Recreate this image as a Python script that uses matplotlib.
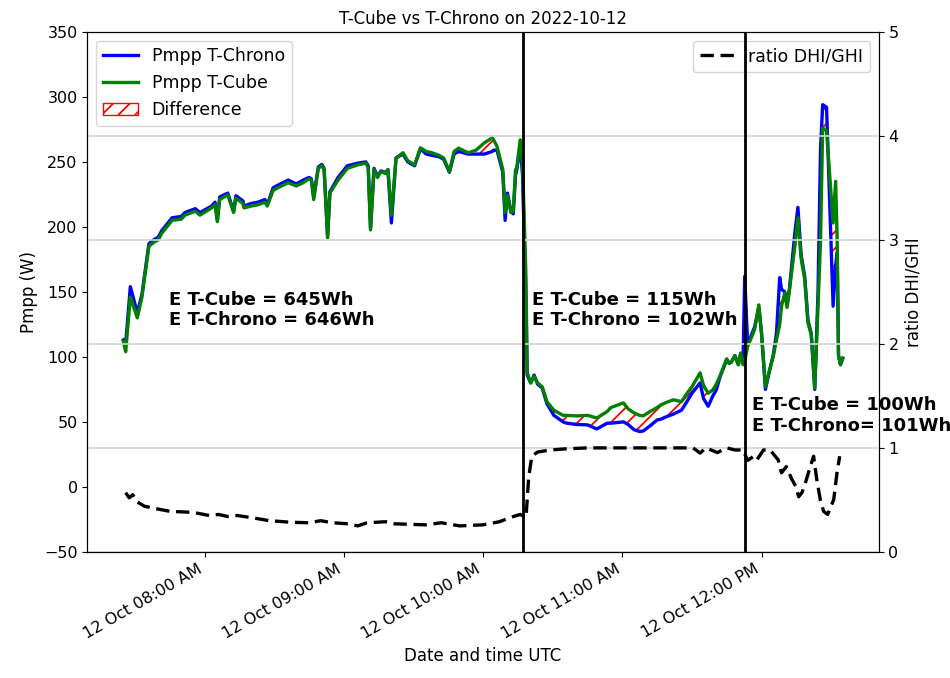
import numpy as np
import pandas as pd
import matplotlib
matplotlib.use('Agg')
import matplotlib.pyplot as plt
import matplotlib.dates as mdates

day = '2022-10-12 '

# power samples: time, T-Cube (W), T-Chrono (W)
p_times = ['07:25:00', '07:26:00', '07:28:00', '07:31:00', '07:33:00', '07:36:00', '07:38:00',
           '07:40:00', '07:41:30', '07:46:00', '07:50:00', '07:51:30', '07:56:00', '07:58:00',
           '08:03:00', '08:04:30', '08:05:30', '08:06:30', '08:10:00', '08:12:30', '08:13:30',
           '08:16:30', '08:17:00', '08:20:00', '08:23:00', '08:26:00', '08:27:00', '08:29:30',
           '08:31:30', '08:36:00', '08:39:30', '08:42:30', '08:45:00', '08:46:00', '08:47:00',
           '08:49:00', '08:50:30', '08:51:30', '08:53:00', '08:54:00', '08:57:30', '09:01:30',
           '09:06:00', '09:09:30', '09:10:30', '09:11:30', '09:13:00', '09:14:30', '09:16:00',
           '09:18:00', '09:19:00', '09:20:30', '09:22:30', '09:25:30', '09:27:30', '09:30:30',
           '09:33:00', '09:35:30', '09:38:00', '09:41:00', '09:43:00', '09:45:30', '09:47:30',
           '09:49:30', '09:53:30', '09:57:00', '10:00:30', '10:04:00', '10:04:30', '10:06:00',
           '10:08:30', '10:09:30', '10:10:30', '10:12:00', '10:13:00', '10:14:00', '10:14:30',
           '10:16:00', '10:17:00', '10:18:30', '10:19:00', '10:20:30', '10:22:00', '10:23:30',
           '10:25:30', '10:27:30', '10:30:30', '10:34:30', '10:36:00', '10:40:30', '10:45:00',
           '10:49:00', '10:53:30', '10:55:00', '11:00:30', '11:02:30', '11:05:00', '11:07:30',
           '11:09:00', '11:12:00', '11:15:00', '11:16:30', '11:19:00', '11:22:00', '11:25:30',
           '11:27:30', '11:30:00', '11:33:30', '11:35:00', '11:37:00', '11:39:00', '11:40:30',
           '11:42:00', '11:45:00', '11:46:00', '11:47:00', '11:48:30', '11:50:00', '11:51:00',
           '11:52:00', '11:52:45', '11:54:00', '11:55:40', '11:57:00', '11:58:50', '12:00:00',
           '12:01:40', '12:03:30', '12:05:00', '12:06:25', '12:07:50', '12:08:35', '12:10:00',
           '12:11:00', '12:12:00', '12:14:20', '12:15:40', '12:17:05', '12:18:35', '12:20:00',
           '12:21:25', '12:22:55', '12:24:20', '12:25:25', '12:26:20', '12:28:00', '12:29:25',
           '12:30:50', '12:31:55', '12:32:35', '12:33:10', '12:34:00', '12:35:00']
p_cube = [112, 104, 146, 130, 146, 185, 188,
          190, 195, 205, 206, 209, 212, 209,
          214.6, 217, 204, 221, 224.6, 211, 222,
          218, 214.6, 216, 217, 219, 216, 228,
          230, 234, 231.5, 234, 237, 236, 221,
          245, 247, 244, 191.5, 226, 236, 245,
          247.7, 249, 246, 197.7, 244, 238, 242.5,
          241, 244, 209, 253, 257, 251, 247.7,
          260.8, 258, 257, 255, 253, 242.5, 258,
          260.5, 257, 259, 264.6, 268.5, 267, 262,
          244, 211, 224, 211, 212, 244, 245,
          267, 250, 160, 88, 80, 85, 80,
          77, 65.6, 59, 55, 55, 54.6, 55,
          53, 58, 61, 64.6, 60, 57, 55,
          54.6, 58, 61, 63, 65, 67, 65.6,
          71, 77, 87.7, 78, 72, 74.6, 79,
          85, 98.5, 95, 96, 101, 94, 103,
          94, 97, 108, 115, 121, 140, 118,
          77, 90, 100, 113, 125, 139, 149,
          138, 151, 185, 207, 175, 160, 126,
          117, 76, 139, 190, 276, 274, 239,
          203, 235, 190, 101, 94, 99]
p_chrono = [113, 110, 154, 134, 148, 187, 190,
            192, 197, 207, 208, 211, 214, 211,
            216, 219, 205, 223, 226, 212, 224,
            220, 216, 218, 219, 221, 217, 230,
            232, 236, 233, 236, 238, 237, 223,
            246, 248, 245, 193, 227, 238, 247,
            249, 250, 247, 199, 245, 239, 243,
            242, 244, 203, 253, 256, 250, 247,
            260, 256, 255, 254, 252, 242, 256,
            258, 256, 256, 256, 258, 259, 259,
            242, 205, 226, 212, 210, 240, 244,
            262, 240, 140, 86, 80, 86, 79,
            76, 64, 55, 50, 49, 48, 47.7,
            44.6, 49, 49, 50, 48, 44, 42.6,
            43, 47, 51.5, 52, 54, 56, 59,
            64.6, 72, 80, 68, 62, 70, 74.6,
            84, 98, 95, 96, 101, 94, 102,
            95, 162, 110, 117, 123, 138, 118,
            75, 90, 101, 118, 161, 152, 150,
            140, 152, 195, 215, 178, 162, 128,
            118, 75, 150, 260, 294, 292, 215,
            139, 170, 180, 101, 94, 99]

# diffuse / global irradiance ratio
r_times = ['07:26:00', '07:27:30', '07:29:00', '07:31:00', '07:34:00', '07:38:00', '07:45:00',
           '07:55:00', '08:02:00', '08:06:00', '08:10:00', '08:14:00', '08:20:00', '08:28:00',
           '08:37:00', '08:45:00', '08:50:00', '08:55:00', '09:02:00', '09:06:00', '09:10:00',
           '09:18:00', '09:22:00', '09:35:00', '09:42:00', '09:50:00', '10:00:00', '10:07:00',
           '10:13:00', '10:16:00', '10:18:30', '10:19:40', '10:21:00', '10:23:30', '10:29:00',
           '10:35:00', '10:45:00', '11:00:00', '11:10:00', '11:20:00', '11:30:30', '11:33:30',
           '11:36:00', '11:41:00', '11:45:00', '11:48:30', '11:52:00', '11:54:00', '11:56:40',
           '11:58:00', '12:00:50', '12:03:40', '12:07:10', '12:08:35', '12:10:40', '12:13:00',
           '12:14:45', '12:16:00', '12:17:25', '12:18:50', '12:21:00', '12:22:25', '12:23:50',
           '12:25:20', '12:26:45', '12:28:30', '12:29:55', '12:31:05', '12:32:30', '12:33:40']
r_ratio = [0.57, 0.52, 0.55, 0.48, 0.44, 0.42, 0.39,
           0.38, 0.35, 0.36, 0.34, 0.35, 0.33, 0.30,
           0.285, 0.28, 0.30, 0.28, 0.27, 0.25, 0.28,
           0.29, 0.27, 0.26, 0.28, 0.25, 0.26, 0.29,
           0.34, 0.36, 0.33, 0.72, 0.92, 0.96, 0.98,
           0.99, 1.0, 1.0, 1.0, 1.0, 1.0, 0.95,
           1.0, 0.955, 1.0, 0.98, 0.98, 0.88, 0.92,
           0.885, 0.98, 0.98, 0.885, 0.76, 0.82, 0.70,
           0.63, 0.53, 0.57, 0.66, 0.82, 0.92, 0.69,
           0.50, 0.39, 0.36, 0.44, 0.50, 0.76, 0.92]

# period limits and energies
cuts = ['10:17:00', '11:53:00']
energy_text = ['E T-Cube = 645Wh\nE T-Chrono = 646Wh',
               'E T-Cube = 115Wh\nE T-Chrono = 102Wh',
               'E T-Cube = 100Wh\nE T-Chrono= 101Wh']

t = pd.to_datetime([day + s for s in p_times])
tr = pd.to_datetime([day + s for s in r_times])
cube = np.array(p_cube)
chrono = np.array(p_chrono)

plt.rcParams['font.size'] = 11.5
plt.rcParams['hatch.linewidth'] = 1.3

fig, ax = plt.subplots(figsize=(9.5, 6.78), dpi=100)
fig.subplots_adjust(left=0.092, right=0.925, top=0.953, bottom=0.186)

ax.plot(t, chrono, color='blue', lw=2.4, label='Pmpp T-Chrono')
ax.plot(t, cube, color='green', lw=2.4, label='Pmpp T-Cube')
ax.fill_between(t, chrono, cube, facecolor='none', edgecolor='red', hatch='//',
                lw=1, label='Difference')
ax.set_ylim(-50, 350)
ax.set_ylabel('Pmpp (W)', fontsize=12)
ax.set_xlabel('Date and time UTC', fontsize=12)
ax.set_title('T-Cube vs T-Chrono on 2022-10-12', fontsize=12)
ax.legend(loc='upper left', fontsize=12.5)

ax.xaxis.set_major_locator(mdates.HourLocator())
ax.xaxis.set_major_formatter(mdates.DateFormatter('%d %b %I:%M %p'))
plt.setp(ax.get_xticklabels(), rotation=30, ha='right')

ax.text(pd.Timestamp(day + '07:44:30'), 136, energy_text[0], fontsize=13,
        fontweight='bold', va='center')
ax.text(pd.Timestamp(day + '10:21:00'), 136, energy_text[1], fontsize=13,
        fontweight='bold', va='center')
ax.text(pd.Timestamp(day + '11:56:00'), 55, energy_text[2], fontsize=13,
        fontweight='bold', va='center')

ax2 = ax.twinx()
ax2.plot(tr, r_ratio, color='black', ls='--', lw=2.4, dashes=(4, 2), label='ratio DHI/GHI')
ax2.set_ylim(0, 5)
ax2.set_ylabel('ratio DHI/GHI', fontsize=12)
ax2.grid(axis='y', color='lightgray', lw=1.2)
ax2.legend(loc='upper right', fontsize=12.5)
for c in cuts:
    ax2.axvline(pd.Timestamp(day + c), color='black', lw=2, zorder=10)

plt.savefig('out.png')
